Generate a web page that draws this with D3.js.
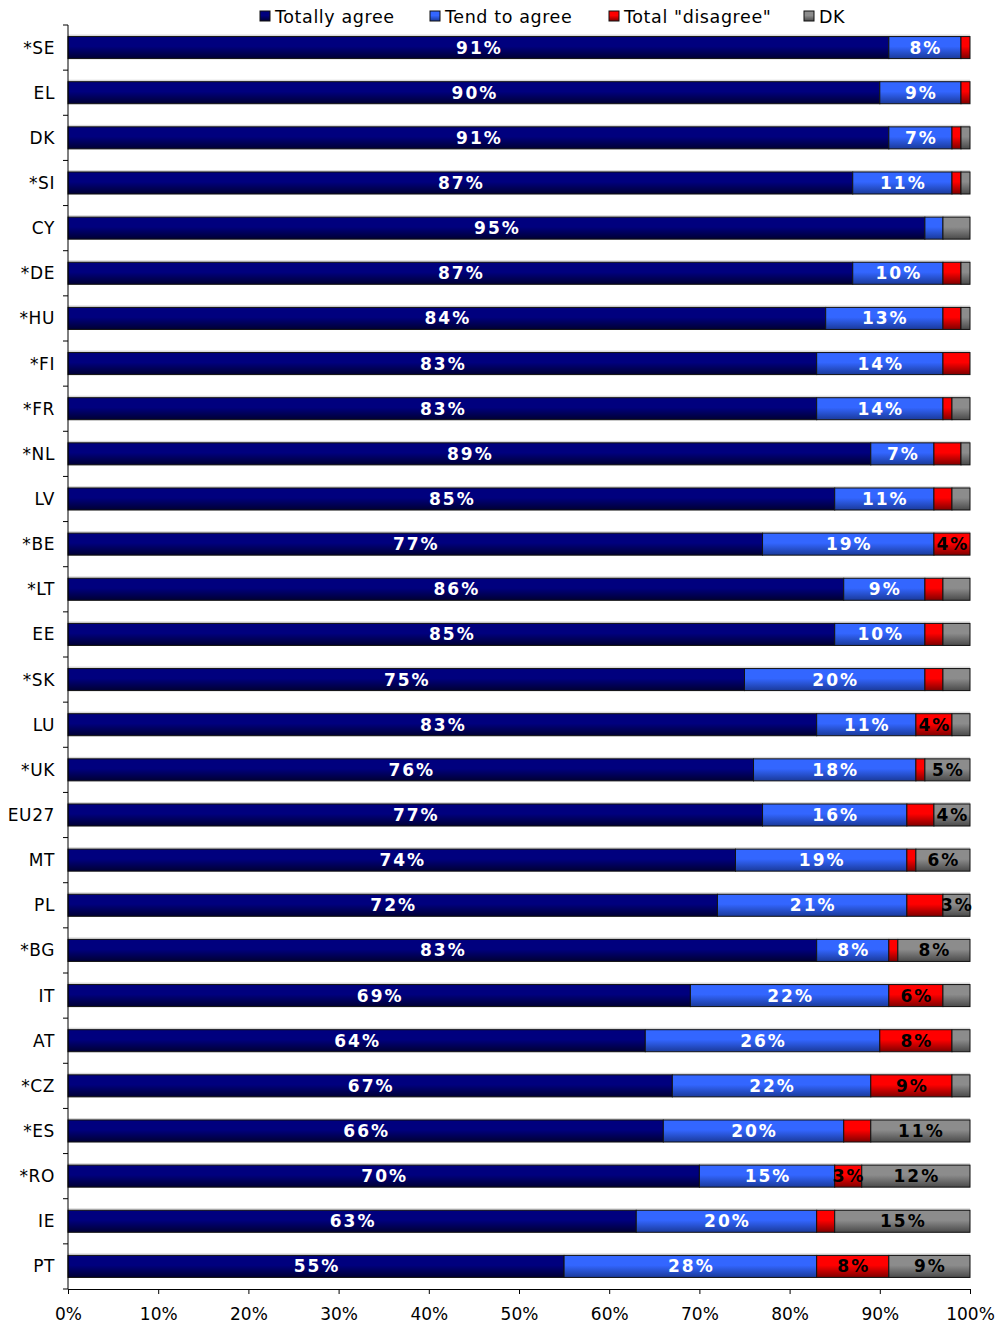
<!DOCTYPE html>
<html>
<head>
<meta charset="utf-8">
<script src="https://cdn.jsdelivr.net/npm/d3@7"></script>
<style>
  html, body { margin: 0; padding: 0; background: #fff; }
  svg { display: block; }
</style>
</head>
<body>
<svg id="chart" width="1000" height="1326"></svg>
<script>
const categories = ["*SE","EL","DK","*SI","CY","*DE","*HU","*FI","*FR","*NL","LV","*BE","*LT","EE","*SK","LU","*UK","EU27","MT","PL","*BG","IT","AT","*CZ","*ES","*RO","IE","PT"];
const seriesNames = ["Totally agree","Tend to agree","Total \"disagree\"","DK"];
const totallyAgree = [91,90,91,87,95,87,84,83,83,89,85,77,86,85,75,83,76,77,74,72,83,69,64,67,66,70,63,55];
const tendToAgree  = [8,9,7,11,2,10,13,14,14,7,11,19,9,10,20,11,18,16,19,21,8,22,26,22,20,15,20,28];
const totalDisagree= [1,1,1,1,0,2,2,3,1,3,2,4,2,2,2,4,1,3,1,4,1,6,8,9,3,3,2,8];
const dontKnow     = [0,0,1,1,3,1,1,0,2,1,2,0,3,3,3,2,5,4,6,3,8,3,2,2,11,12,15,9];
// small segments whose label is shown / hidden in the original (default: shown when >= 4%)
const labelledSmall = ["PL|DK","*RO|Total \"disagree\""];
const unlabelled = ["PL|Total \"disagree\""];
const xTicks = [0,10,20,30,40,50,60,70,80,90,100];

const seriesValues = [totallyAgree, tendToAgree, totalDisagree, dontKnow];
const colors = [
  ["#00007e","#000033"],
  ["#3366ff","#1a3a9a"],
  ["#ff0000","#800000"],
  ["#8c8c8c","#4a4a4a"]
];
const labelColors = ["#ffffff","#ffffff","#000000","#000000"];
const FONT = "DejaVu Sans, Verdana, sans-serif";

const svg = d3.select("#chart");
const margin = {left: 68, right: 30, top: 25, bottom: 37};
const W = 1000, H = 1326;
const x = d3.scaleLinear().domain([0,100]).range([margin.left, W - margin.right]);
const y = d3.scaleBand().domain(categories).range([margin.top, H - margin.bottom]).paddingInner(0.512).paddingOuter(0.256);

const defs = svg.append("defs");
colors.forEach((c,i) => {
  const g = defs.append("linearGradient").attr("id","grad"+i).attr("x1",0).attr("y1",0).attr("x2",0).attr("y2",1);
  g.append("stop").attr("offset","0%").attr("stop-color",c[0]);
  g.append("stop").attr("offset","45%").attr("stop-color",c[0]);
  g.append("stop").attr("offset","100%").attr("stop-color",c[1]);
});

const rows = categories.map((c,i) => {
  let acc = 0;
  return seriesValues.map((arr,s) => {
    const v = arr[i];
    const seg = {cat: c, s, v, x0: acc, x1: acc + v};
    acc += v;
    return seg;
  });
});

function showLabel(d) {
  const key = d.cat + "|" + seriesNames[d.s];
  if (unlabelled.includes(key)) return false;
  return d.v >= 4 || labelledSmall.includes(key);
}

const barG = svg.append("g");
rows.forEach(row => {
  const g = barG.append("g");
  g.append("rect")
    .attr("x", x(0)).attr("y", y(row[0].cat) - 2)
    .attr("width", x(100) - x(0)).attr("height", 2)
    .attr("fill", "#d9d9d9");
  row.filter(d => d.v > 0).forEach(d => {
    g.append("rect")
      .attr("x", x(d.x0)).attr("y", y(d.cat))
      .attr("width", x(d.x1) - x(d.x0)).attr("height", y.bandwidth())
      .attr("fill", "url(#grad" + d.s + ")")
      .attr("stroke", "#111").attr("stroke-width", 1);
  });
  row.filter(d => d.v > 0 && showLabel(d)).forEach(d => {
    g.append("text")
      .attr("x", (x(d.x0) + x(d.x1)) / 2 + 1)
      .attr("y", y(d.cat) + y.bandwidth()/2 + 6)
      .attr("text-anchor", "middle")
      .attr("font-family", FONT)
      .attr("font-weight", "bold")
      .attr("font-size", 17)
      .attr("letter-spacing", 2)
      .attr("fill", labelColors[d.s])
      .text(d.v + "%");
  });
});

// y axis
const yAxisG = svg.append("g");
yAxisG.append("line").attr("x1", x(0)).attr("x2", x(0)).attr("y1", margin.top).attr("y2", H - margin.bottom).attr("stroke","#000");
d3.range(categories.length + 1).forEach(i => {
  const yy = margin.top + i * (H - margin.top - margin.bottom) / categories.length;
  yAxisG.append("line").attr("x1", x(0) - 5).attr("x2", x(0)).attr("y1", yy).attr("y2", yy).attr("stroke","#000");
});
categories.forEach(c => {
  yAxisG.append("text")
    .attr("x", 55).attr("y", y(c) + y.bandwidth()/2 + 6)
    .attr("text-anchor","end")
    .attr("font-family", FONT)
    .attr("font-size", 17).attr("letter-spacing", 0.6).attr("fill","#000")
    .text(c);
});

// x axis
const xAxis = d3.axisBottom(x).tickValues(xTicks).tickFormat(d => d + "%").tickSize(5).tickSizeOuter(0);
const xg = svg.append("g").attr("transform", `translate(0,${H - margin.bottom})`).call(xAxis);
xg.select(".domain").attr("stroke","#000");
xg.selectAll(".tick line").attr("stroke","#000");
xg.selectAll("text").attr("font-family", FONT).attr("font-size",17).attr("fill","#000").attr("dy","1.35em");

// legend
const legendX = [260, 430, 609, 804];
const lg = svg.append("g");
seriesNames.forEach((n,i) => {
  lg.append("rect").attr("x", legendX[i]).attr("y", 11).attr("width", 10).attr("height", 10)
    .attr("fill","url(#grad"+i+")").attr("stroke","#111");
  lg.append("text").attr("x", legendX[i] + 15).attr("y", 23)
    .attr("font-family", FONT).attr("font-size",17.5).attr("letter-spacing",0.6).attr("fill","#000")
    .text(n);
});
</script>
</body>
</html>
